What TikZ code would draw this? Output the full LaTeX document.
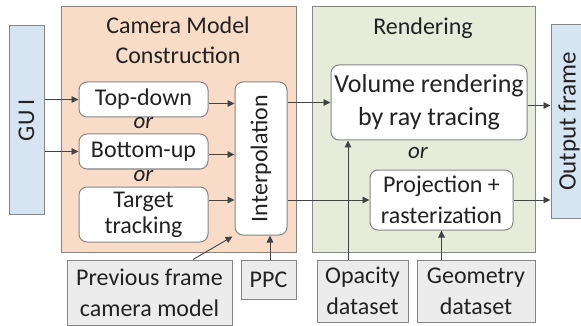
\documentclass[tikz,border=0pt]{standalone}
\usepackage{fontspec}
\setmainfont{Carlito}
\usetikzlibrary{arrows.meta,calc}
\definecolor{peach}{HTML}{F9DCC8}
\definecolor{sage}{HTML}{E7EBDA}
\definecolor{pale}{HTML}{D7E4F1}
\definecolor{lgrey}{HTML}{ECECEC}
\definecolor{edge}{HTML}{858585}
\definecolor{ink}{HTML}{222222}
\begin{document}
\begin{tikzpicture}[x=1pt,y=-1pt,
  every node/.style={font=\fontsize{24}{31}\selectfont, text=ink, inner sep=0pt, align=center},
  whitebox/.style={draw=edge, line width=1pt, fill=white, rounded corners=8pt},
  greybox/.style={draw=edge, line width=1pt, fill=lgrey},
  bluebox/.style={draw=edge, line width=1pt, fill=pale},
  orlabel/.style={font=\fontsize{23}{30}\selectfont\itshape, text height=1.1ex, text depth=0pt},
  arr/.style={draw=ink!85, line width=0.9pt, -{Triangle[length=7pt,width=6.5pt]}}]
\useasboundingbox (0,0) rectangle (581,326);
% groups
\node[draw=edge, line width=1pt, fill=peach, minimum width=235pt, minimum height=245pt] (cmc) at (178.5,129.5) {};
\node[draw=edge, line width=1pt, fill=sage, minimum width=223pt, minimum height=245pt] (rend) at (423.5,129.5) {};
\node[font=\fontsize{24}{30}\selectfont] (cmctitle) at (178,40) {Camera Model\\Construction};
\node (rendtitle) at (423,28) {Rendering};
% side boxes
\node[bluebox, minimum width=35pt, minimum height=188pt] (gui) at (26.5,120) {\rotatebox{90}{GU I}};
\node[bluebox, minimum width=36pt, minimum height=193pt, font=\fontsize{25}{30}\selectfont] (out) at (569,121.5) {\rotatebox{90}{Output frame}};
% camera boxes
\node[whitebox, minimum width=129pt, minimum height=35pt] (td) at (143.5,99.5) {Top-down};
\node[whitebox, minimum width=129pt, minimum height=35pt] (bu) at (143.5,151.5) {Bottom-up};
\node[whitebox, minimum width=129pt, minimum height=55pt, font=\fontsize{24}{26}\selectfont] (tt) at (143.5,214.5) {Target\\tracking};
\node[orlabel] (or1) at (143.5,126) {or};
\node[orlabel] (or2) at (143.5,179) {or};
\node[whitebox, minimum width=52pt, minimum height=153pt] (interp) at (261,158.5) {\rotatebox{90}{Interpolation}};
% rendering boxes
\node[whitebox, minimum width=196pt, minimum height=75pt, font=\fontsize{26}{33}\selectfont] (vol) at (429,102.5) {Volume rendering\\by ray tracing};
\node[whitebox, minimum width=143pt, minimum height=60pt] (proj) at (441.5,200) {Projection +\\rasterization};
\node[orlabel] (or3) at (418,156) {or};
% bottom inputs
\node[greybox, minimum width=165pt, minimum height=65pt] (prev) at (149.5,292.5) {Previous frame\\camera model};
\node[greybox, minimum width=55pt, minimum height=39pt] (ppc) at (268.5,279.5) {PPC};
\node[greybox, minimum width=91pt, minimum height=62pt] (opa) at (362.5,291) {Opacity\\dataset};
\node[greybox, minimum width=118pt, minimum height=62pt] (geo) at (476,291) {Geometry\\dataset};
% connectors
\draw[arr] (gui.east |- td.west) -- (td.west);
\draw[arr] (gui.east |- bu.west) -- (bu.west);
\draw[arr] ([yshift=-4pt]td.east) -- ([yshift=-4pt]td.east -| interp.west);
\draw[arr] ([yshift=-3pt]bu.east) -- ([yshift=-3pt]bu.east -| interp.west);
\draw[arr] (tt.east |- proj.west) -- (interp.west |- proj.west);
\draw[arr] ([xshift=43.5pt]prev.north) -- ([xshift=-2pt,yshift=-1pt]interp.south west);
\draw[arr] ([xshift=1.5pt]ppc.north) -- ([xshift=1.5pt]ppc.north |- interp.south);
\draw[arr] (interp.east |- vol.west) -- (vol.west);
\draw[arr] (interp.east |- proj.west) -- (proj.west);
\draw[arr] ([xshift=-14.5pt]opa.north) -- ([xshift=-14.5pt]opa.north |- vol.south);
\draw[arr] (proj.south |- geo.north) -- (proj.south);
\draw[arr] ([yshift=-3pt]vol.east) -- ([yshift=-3pt]vol.east -| out.west);
\draw[arr] (proj.east) -- (proj.east -| out.west);
\end{tikzpicture}
\end{document}
